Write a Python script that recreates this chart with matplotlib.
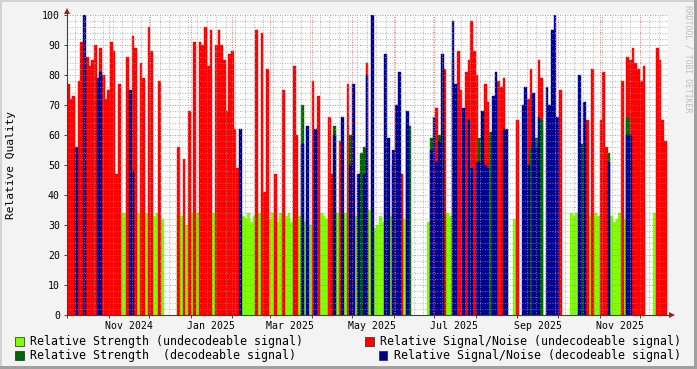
"""
RRDtool-style signal quality chart (relative strength / relative S/N).
"""
import numpy as np
import pandas as pd
import matplotlib
matplotlib.use("Agg")
import matplotlib.pyplot as plt
import matplotlib.dates as mdates
from matplotlib.ticker import MultipleLocator, NullFormatter
from matplotlib.patches import Rectangle

MONO = "DejaVu Sans Mono"
COLORS = {"str_undec": "#80ff00", "sn_undec": "#ff0000",
          "str_dec": "#006600", "sn_dec": "#000090"}

# time axis: one value per 2-day bin starting at START (0 = no sample)
START = "2024-10-01"
END = "2025-12-21 22:00"

str_undec = [
    0, 0, 0, 33, 0, 0, 0, 0, 0, 0, 0, 0, 0, 0, 33,
    0, 0, 0, 33, 33, 34, 34, 0, 0, 0, 0, 34, 34, 0, 34,
    0, 0, 33, 34, 34, 32, 0, 0, 0, 0, 0, 34, 33, 30, 30,
    34, 34, 34, 34, 0, 0, 0, 0, 0, 34, 0, 0, 0, 0, 0,
    0, 0, 0, 33, 34, 33, 32, 34, 31, 33, 0, 34, 34, 34, 34,
    32, 34, 34, 31, 34, 0, 33, 34, 31, 33, 34, 33, 0, 31, 33,
    30, 32, 0, 34, 34, 33, 32, 34, 32, 0, 34, 34, 0, 34, 0,
    0, 0, 33, 0, 0, 0, 0, 35, 0, 29, 30, 33, 31, 34, 34,
    33, 0, 0, 0, 33, 32, 0, 25, 0, 0, 0, 0, 0, 0, 31,
    0, 0, 0, 0, 0, 0, 34, 33, 0, 34, 34, 0, 34, 34, 0,
    0, 0, 0, 0, 0, 0, 0, 34, 0, 0, 0, 0, 0, 33, 0,
    0, 32, 0, 0, 0, 0, 0, 0, 0, 0, 0, 0, 0, 0, 0,
    0, 0, 33, 0, 0, 0, 0, 34, 33, 34, 0, 33, 0, 33, 33,
    0, 34, 33, 33, 30, 0, 0, 33, 31, 32, 34, 33, 32, 0, 0,
    0, 0, 0, 0, 34, 0, 0, 0, 34, 34, 0, 34, 34,
]
sn_undec = [
    77, 72, 73, 0, 78, 91, 0, 86, 83, 85, 90, 0, 89, 80, 72,
    75, 91, 88, 47, 77, 0, 0, 86, 0, 93, 89, 0, 84, 79, 0,
    96, 88, 0, 0, 78, 0, 0, 0, 0, 0, 0, 56, 0, 52, 0,
    68, 0, 91, 0, 91, 90, 96, 83, 95, 0, 90, 95, 90, 85, 68,
    87, 88, 62, 49, 0, 0, 0, 0, 0, 0, 95, 0, 94, 41, 82,
    0, 0, 47, 0, 0, 75, 0, 0, 0, 83, 60, 0, 0, 0, 0,
    0, 78, 0, 73, 0, 0, 0, 66, 47, 0, 0, 58, 0, 0, 77,
    0, 0, 0, 0, 48, 0, 84, 0, 0, 0, 0, 0, 0, 0, 0,
    0, 0, 0, 0, 47, 0, 0, 0, 0, 0, 0, 0, 0, 0, 0,
    0, 0, 69, 0, 0, 82, 0, 0, 85, 0, 88, 75, 0, 81, 85,
    98, 88, 80, 0, 0, 77, 71, 0, 0, 0, 78, 76, 79, 0, 0,
    0, 0, 65, 0, 0, 0, 72, 82, 0, 0, 85, 79, 0, 0, 47,
    0, 0, 0, 75, 0, 0, 0, 0, 0, 0, 0, 0, 0, 65, 0,
    82, 0, 0, 65, 81, 56, 0, 0, 0, 0, 0, 78, 0, 86, 85,
    89, 84, 82, 78, 83, 0, 0, 0, 0, 89, 85, 65, 58,
]
str_dec = [
    0, 0, 0, 0, 0, 0, 0, 0, 0, 0, 0, 0, 0, 0, 0,
    0, 0, 0, 0, 0, 0, 0, 0, 0, 0, 0, 0, 0, 0, 0,
    0, 0, 0, 0, 0, 0, 0, 0, 0, 0, 0, 0, 0, 0, 0,
    0, 0, 0, 0, 0, 0, 0, 0, 0, 0, 0, 0, 0, 0, 0,
    0, 0, 0, 0, 0, 0, 0, 0, 0, 0, 0, 0, 0, 0, 0,
    0, 0, 0, 0, 0, 0, 0, 0, 0, 0, 0, 0, 70, 0, 0,
    0, 0, 0, 0, 0, 0, 0, 0, 0, 63, 0, 0, 0, 0, 0,
    60, 0, 0, 0, 54, 56, 0, 0, 0, 0, 0, 0, 0, 0, 0,
    0, 50, 0, 0, 0, 0, 63, 63, 0, 0, 0, 0, 0, 0, 0,
    59, 0, 0, 60, 60, 0, 0, 0, 0, 0, 0, 0, 0, 0, 0,
    0, 0, 0, 59, 0, 0, 0, 61, 0, 50, 0, 0, 0, 0, 0,
    0, 0, 0, 0, 0, 0, 0, 56, 0, 59, 0, 65, 0, 0, 0,
    0, 60, 0, 0, 0, 0, 0, 0, 0, 0, 0, 57, 0, 0, 0,
    0, 0, 0, 0, 0, 0, 54, 0, 0, 0, 0, 0, 0, 66, 0,
    0, 0, 0, 0, 0, 0, 0, 0, 0, 0, 0, 0, 0,
]
sn_dec = [
    0, 0, 0, 56, 0, 0, 100, 0, 0, 0, 0, 79, 81, 0, 0,
    0, 0, 0, 0, 0, 0, 0, 0, 75, 48, 0, 0, 0, 0, 0,
    0, 0, 0, 0, 0, 0, 0, 0, 0, 0, 0, 0, 0, 0, 0,
    0, 0, 0, 0, 0, 0, 0, 0, 0, 0, 0, 0, 0, 0, 0,
    0, 0, 0, 0, 62, 0, 0, 0, 0, 0, 0, 0, 0, 0, 0,
    0, 0, 0, 0, 0, 0, 0, 0, 0, 0, 0, 0, 57, 0, 63,
    0, 0, 62, 0, 0, 0, 0, 0, 0, 60, 0, 0, 66, 0, 0,
    50, 77, 0, 47, 0, 47, 80, 0, 100, 0, 0, 0, 0, 87, 59,
    0, 55, 70, 81, 0, 0, 68, 0, 0, 0, 0, 0, 0, 0, 0,
    55, 66, 51, 58, 87, 0, 0, 0, 98, 77, 0, 0, 69, 0, 65,
    49, 0, 51, 51, 68, 50, 49, 0, 73, 81, 0, 0, 62, 62, 0,
    0, 0, 0, 0, 70, 76, 50, 0, 74, 56, 66, 0, 0, 76, 70,
    95, 100, 66, 0, 0, 0, 0, 0, 0, 0, 80, 0, 71, 0, 0,
    0, 0, 0, 0, 0, 0, 51, 0, 0, 0, 0, 0, 0, 60, 60,
    0, 0, 0, 0, 0, 0, 0, 0, 0, 0, 0, 0, 0,
]

label_dates = ["2024-11-16", "2025-01-16", "2025-03-16", "2025-05-16",
               "2025-07-16", "2025-09-16", "2025-11-16"]
label_text = ["Nov 2024", "Jan 2025", "Mar 2025", "May 2025",
              "Jul 2025", "Sep 2025", "Nov 2025"]

legend_items = [
    ("Relative Strength (undecodeable signal)", "str_undec"),
    ("Relative Strength  (decodeable signal)", "str_dec"),
    ("Relative Signal/Noise (undecodeable signal)", "sn_undec"),
    ("Relative Signal/Noise (decodeable signal)", "sn_dec"),
]

W, H = 697, 369
fig = plt.figure(figsize=(W / 100, H / 100), dpi=100, facecolor="#f3f3f3")
ax = fig.add_axes([67 / W, 54 / H, 601 / W, 300 / H])
ax.set_facecolor("white")

dates = pd.date_range(START, periods=len(sn_undec), freq="2D")
series = [(str_undec, "str_undec"), (sn_undec, "sn_undec"),
          (str_dec, "str_dec"), (sn_dec, "sn_dec")]
for vals, key in series:
    v = np.asarray(vals, dtype=float)
    m = v > 0
    ax.bar(dates[m], v[m], width=2, align="edge", color=COLORS[key],
           edgecolor=COLORS[key], linewidth=0.3, zorder=1)

ax.set_xlim(pd.Timestamp(START), pd.Timestamp(END))
ax.set_ylim(0, 100)

# y axis
ax.set_yticks(range(0, 101, 10))
ax.yaxis.set_minor_locator(MultipleLocator(2))
# x axis: monthly major grid, weekly minor grid, labels mid-month
ax.xaxis.set_major_locator(mdates.MonthLocator())
ax.xaxis.set_minor_locator(mdates.WeekdayLocator(byweekday=mdates.MO))
ax.xaxis.set_major_formatter(NullFormatter())

ax.set_axisbelow(False)
ax.grid(which="major", color=(0.95, 0.3, 0.3, 0.35), linestyle=(0, (1, 2)),
        lw=0.6)
ax.grid(which="minor", color=(0.6, 0.6, 0.6, 0.22), linestyle=(0, (1, 2)),
        lw=0.6)

for s in ("top", "right"):
    ax.spines[s].set_visible(False)
for s in ("left", "bottom"):
    ax.spines[s].set_color("#404040")
    ax.spines[s].set_linewidth(0.8)
    ax.spines[s].set_zorder(3)

ax.tick_params(which="major", length=2, width=0.7, color="#404040",
               labelsize=7.1, pad=3)
ax.tick_params(which="minor", length=0)
for lbl in ax.get_yticklabels():
    lbl.set_family(MONO)

sec = ax.secondary_xaxis("bottom")
sec.set_xticks(mdates.date2num(pd.to_datetime(label_dates)), labels=label_text)
sec.tick_params(length=0, labelsize=7.1, pad=4)
sec.spines["bottom"].set_visible(False)
for lbl in sec.get_xticklabels():
    lbl.set_family(MONO)

# axis arrows
ax.plot([0, 0], [1, 1.013], color="#404040", lw=0.8, transform=ax.transAxes,
        clip_on=False)
ax.plot([1, 1.006], [0, 0], color="#404040", lw=0.8, transform=ax.transAxes,
        clip_on=False)
ax.plot([0], [1.013], marker="^", ms=4, color="#a02020", mew=0,
        transform=ax.transAxes, clip_on=False)
ax.plot([1.007], [0], marker=">", ms=4, color="#a02020", mew=0,
        transform=ax.transAxes, clip_on=False)

fig.text(11 / W, 1 - 165 / H, "Relative Quality", rotation=90, ha="center",
         va="center", fontsize=8.1, family=MONO)
fig.text(688 / W, 1 - 59 / H, "RRDTOOL / TOBI OETIKER", rotation=270,
         ha="center", va="center", fontsize=5.9, family=MONO, color="#bcbcbc")

# legend
box_pos = [(15, 336.5), (15, 350.5), (365, 336.5), (379, 350.5)]
for (text, key), (bx, by) in zip(legend_items, box_pos):
    fig.patches.append(Rectangle((bx / W, 1 - (by + 9) / H), 8.5 / W, 9 / H,
                                 transform=fig.transFigure,
                                 facecolor=COLORS[key], edgecolor="#222222",
                                 lw=0.5))
    fig.text((bx + 15) / W, 1 - (by + 4.5) / H, text, va="center",
             ha="left", fontsize=8.4, family=MONO)

# canvas border shading
fig.patches.append(Rectangle((0, 1 - 2 / H), 1, 2 / H, transform=fig.transFigure,
                             facecolor="#d2d2d2", lw=0))
fig.patches.append(Rectangle((0, 0), 2 / W, 1, transform=fig.transFigure,
                             facecolor="#d2d2d2", lw=0))
fig.patches.append(Rectangle((0, 0), 1, 3 / H, transform=fig.transFigure,
                             facecolor="#a0a0a0", lw=0))
fig.patches.append(Rectangle((1 - 3 / W, 0), 3 / W, 1, transform=fig.transFigure,
                             facecolor="#a0a0a0", lw=0))

fig.savefig("out.png", dpi=100, facecolor=fig.get_facecolor())
plt.close(fig)
